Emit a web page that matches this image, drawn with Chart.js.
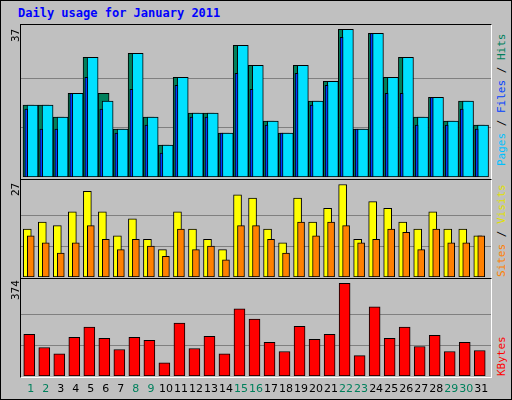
<!DOCTYPE html>
<html>
<head>
<meta charset="utf-8">
<script src="https://cdn.jsdelivr.net/npm/chart.js@4"></script>
<style>
  body { margin: 0; background: #c0c0c0; }
  #frame { position: absolute; left: 0; top: 0; width: 510px; height: 398px; border: 1px solid #000; background: #c0c0c0; }
  #title { position: absolute; left: 18px; top: 6px; font: bold 12px "DejaVu Sans Mono", monospace; color: #0000ff; }
  .panel { position: absolute; left: 20px; width: 470px; border-top: 1px solid #000; border-left: 1px solid #000; border-bottom: 1px solid #fff; border-right: 1px solid #fff; background: #c0c0c0; }
  .panel canvas { position: absolute; left: 0; top: 0; }
  .ylab { position: absolute; font: 11px "DejaVu Sans Mono", monospace; transform: rotate(-90deg); transform-origin: left top; white-space: nowrap; }
  .xlab { position: absolute; top: 382px; font: 11px "DejaVu Sans", sans-serif; transform: translateX(-50%); }
</style>
</head>
<body>
<div id="frame"></div>
<div id="title">Daily usage for January 2011</div>
<div class="panel" id="p1" style="top:24px;height:154px"><canvas id="c1"></canvas></div>
<div class="panel" id="p2" style="top:179px;height:98px"><canvas id="c2"></canvas></div>
<div class="panel" id="p3" style="top:278px;height:98px"><canvas id="c3"></canvas></div>
<div class="ylab" style="left:9px;top:42px">37</div>
<div class="ylab" style="left:9px;top:196px">27</div>
<div class="ylab" style="left:9px;top:300px">374</div>
<div class="ylab" style="left:495px;top:166px"><span style="color:#00c0ff">Pages</span> / <span style="color:#0040ff">Files</span> / <span style="color:#00805c">Hits</span></div>
<div class="ylab" style="left:495px;top:277px"><span style="color:#ff8000">Sites</span> / <span style="color:#e0e000">Visits</span></div>
<div class="ylab" style="left:495px;top:376px;color:#ff0000">KBytes</div>
<div id="xlabels"></div>
<script>
// Daten
const days = [1,2,3,4,5,6,7,8,9,10,11,12,13,14,15,16,17,18,19,20,21,22,23,24,25,26,27,28,29,30,31];
const weekend = [1,2,8,9,15,16,22,23,29,30];
const hits  = [18,18,15,21,30,21,12,31,15,8,25,16,16,11,33,28,14,11,28,19,24,37,12,36,25,30,15,20,14,19,13];
const pages = [18,18,15,21,30,19,12,31,15,8,25,16,16,11,33,28,14,11,28,19,24,37,12,36,25,30,15,20,14,19,13];
const files = [17,12,12,21,25,17,11,22,13,6,23,15,15,11,26,22,13,11,26,18,23,35,12,36,21,21,13,20,13,17,12];
const visits = [14,16,15,19,25,19,12,17,11,8,19,14,11,8,24,23,14,10,23,16,20,27,11,22,20,16,14,19,14,14,12];
const sites  = [12,10,7,10,15,11,8,11,9,6,14,8,9,5,15,15,11,7,16,12,16,15,10,11,14,13,8,14,10,10,12];
const kbytes = [168,115,90,156,197,152,107,156,144,53,214,111,160,90,271,230,136,99,201,148,168,374,82,279,152,197,119,164,99,136,103];

function pts(values, shift) {
    return values.map((v, i) => ({ x: days[i] + shift, y: v }));
}

function ds(values, shift, color, width, order) {
    return { data: pts(values, shift), backgroundColor: color, borderColor: '#000', borderWidth: 1,
             borderSkipped: false, barThickness: width, order: order, grouped: false };
}

function makeChart(id, w, h, datasets, ymax, grid) {
    const canvas = document.getElementById(id);
    canvas.width = w; canvas.height = h;
    canvas.style.width = w + 'px';
    canvas.style.height = h + 'px';
    return new Chart(canvas, {
        type: 'bar',
        data: { datasets: datasets },
        options: {
            responsive: false, animation: false,
            devicePixelRatio: 1,
            layout: { padding: 0 },
            plugins: { legend: { display: false }, tooltip: { enabled: false } },
            scales: {
                x: { type: 'linear', min: 0.35, max: 31.65, offset: false, display: false },
                y: {
                    min: 0, max: ymax,
                    ticks: { display: false },
                    border: { display: false },
                    grid: { color: '#808080', drawTicks: false },
                    afterBuildTicks: axis => { axis.ticks = grid.map(v => ({ value: v })); }
                }
            }
        }
    });
}

makeChart('c1', 470, 152, [
    ds(hits, -0.15, '#00805c', 11, 3),
    ds(pages, 0.12, '#00e0ff', 11, 2),
    ds(files, -0.3, '#0040ff', 3, 1)
], 38.1, [37 / 3, 37 * 2 / 3]);

makeChart('c2', 470, 97, [
    ds(visits, -0.23, '#ffff00', 8, 2),
    ds(sites, 0.0, '#ff8000', 7, 1)
], 28.3, [9, 18]);

const kb = makeChart('c3', 470, 97, [
    ds(kbytes, -0.1, '#ff0000', 11, 1)
], 391.6, [374 / 3, 374 * 2 / 3]);

// X-Achsen-Beschriftung
const xl = document.getElementById('xlabels');
days.forEach(d => {
    const s = document.createElement('div');
    s.className = 'xlab';
    s.textContent = d;
    s.style.left = (21 + kb.scales.x.getPixelForValue(d)) + 'px';
    s.style.color = weekend.includes(d) ? '#00805c' : '#000';
    xl.appendChild(s);
});
</script>
</body>
</html>
